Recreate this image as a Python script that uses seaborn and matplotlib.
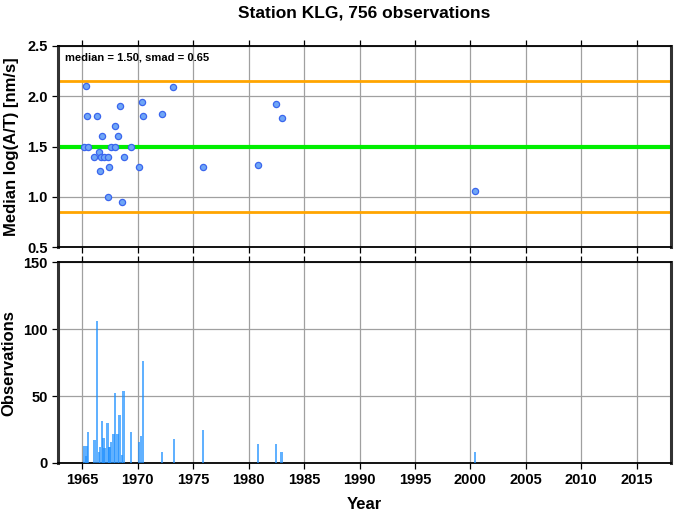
import numpy as np
import pandas as pd
import seaborn as sns
import matplotlib.pyplot as plt

# median log(A/T) per event
med_year = [1965.18, 1965.33, 1965.42, 1965.48, 1966.05, 1966.35, 1966.5, 1966.6,
            1966.7, 1966.8, 1966.98, 1967.28, 1967.3, 1967.4, 1967.6, 1967.9,
            1967.94, 1968.18, 1968.36, 1968.54, 1968.72, 1969.39, 1970.13, 1970.38,
            1970.47, 1972.2, 1973.2, 1975.87, 1980.86, 1982.5, 1982.96, 2000.43]
med_val = [1.50, 2.10, 1.80, 1.50, 1.40, 1.80, 1.45, 1.26,
           1.40, 1.60, 1.40, 1.40, 1.00, 1.30, 1.50, 1.50,
           1.70, 1.60, 1.90, 0.95, 1.40, 1.50, 1.30, 1.94,
           1.80, 1.82, 2.09, 1.30, 1.32, 1.92, 1.78, 1.06]

# observations per event
obs_year = [1965.2, 1965.3, 1965.4, 1965.5, 1966.08, 1966.3, 1966.5, 1966.6,
            1966.77, 1966.9, 1967.0, 1967.25, 1967.38, 1967.45, 1967.6, 1967.8,
            1967.94, 1968.18, 1968.36, 1968.57, 1968.7, 1969.4, 1970.1, 1970.3,
            1970.47, 1972.2, 1973.26, 1975.87, 1980.86, 1982.45, 1982.96, 2000.43]
obs_count = [13, 5, 13, 23, 17, 106, 8, 12,
             31, 19, 11, 30, 12, 12, 16, 22,
             52, 22, 36, 6, 54, 23, 16, 20,
             76, 8, 18, 25, 14, 14, 8, 8]

median, smad = 1.50, 0.65
station = "KLG"
n_obs = 756

sns.set_style("white")
plt.rcParams["font.family"] = ["Liberation Sans", "DejaVu Sans"]
plt.rcParams["font.weight"] = "bold"
plt.rcParams["text.color"] = "black"
plt.rcParams["axes.labelcolor"] = "black"
plt.rcParams["xtick.color"] = "black"
plt.rcParams["ytick.color"] = "black"

fig = plt.figure(figsize=(6.77, 5.11), dpi=100)
ax1 = fig.add_axes([0.0857, 0.516, 0.9055, 0.3945])
ax2 = fig.add_axes([0.0857, 0.094, 0.9055, 0.3928])

xlim = (1962.8, 2018.1)
grid_kw = dict(color="#a0a0a0", linewidth=0.9)

def style_frame(ax):
    for side in ("left", "right"):
        ax.spines[side].set_linewidth(2.2)
        ax.spines[side].set_color("#333333")
    for side in ("top", "bottom"):
        ax.spines[side].set_linewidth(1.3)
        ax.spines[side].set_color("black")
    ax.tick_params(axis="both", direction="out", length=4, width=0.9,
                   labelsize=10.5, bottom=True, top=True, left=True, right=False)
    ax.grid(True, **grid_kw)
    ax.set_axisbelow(True)
    ax.set_xlim(*xlim)
    ax.set_xticks(range(1965, 2016, 5))

# top panel: medians
df_med = pd.DataFrame({"year": med_year, "val": med_val})
style_frame(ax1)
ax1.axhline(median, color="#00ee00", linewidth=3, zorder=2)
ax1.axhline(median + smad, color="#ffa500", linewidth=2, zorder=2)
ax1.axhline(median - smad, color="#ffa500", linewidth=2, zorder=2)
sns.scatterplot(data=df_med, x="year", y="val", ax=ax1, s=20,
                color="#6fa6f6", edgecolor="#3a66ee", linewidth=0.9, zorder=3)
ax1.set_ylim(0.5, 2.5)
ax1.set_yticks([0.5, 1.0, 1.5, 2.0, 2.5])
ax1.set_yticklabels(["0.5", "1.0", "1.5", "2.0", "2.5"])
ax1.set_xticklabels([])
ax1.set_xlabel("")
ax1.set_ylabel("Median log(A/T) [nm/s]", fontsize=12, fontweight="bold", labelpad=6)
ax1.text(0.012, 0.965, f"median = {median:.2f}, smad = {smad:.2f}",
         transform=ax1.transAxes, ha="left", va="top", fontsize=8, fontweight="bold")
ax1.set_title(f"Station {station}, {n_obs} observations", fontsize=12.5,
              fontweight="bold", pad=20)

# bottom panel: number of observations
style_frame(ax2)
ax2.bar(obs_year, obs_count, width=0.22, color="#1e90ff", alpha=0.7, linewidth=0, zorder=3)
ax2.set_ylim(0, 150)
ax2.set_yticks([0, 50, 100, 150])
ax2.set_xlabel("Year", fontsize=12, fontweight="bold", labelpad=7)
ax2.set_ylabel("Observations", fontsize=12, fontweight="bold", labelpad=5)

fig.savefig("out.png", dpi=100)
